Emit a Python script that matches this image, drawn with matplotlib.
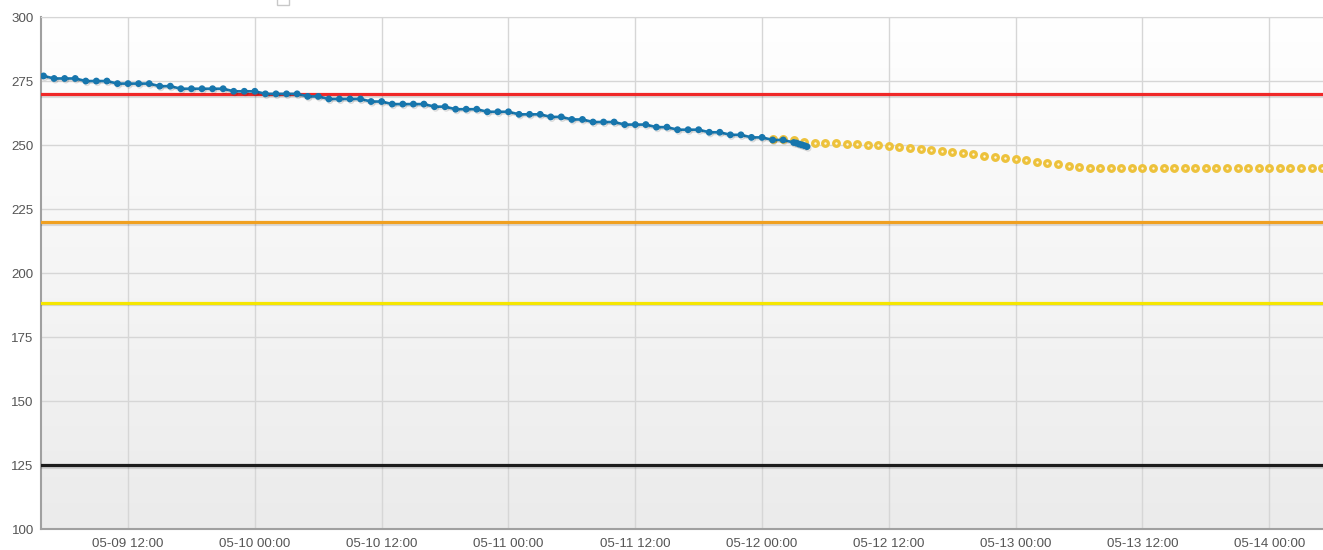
import numpy as np
import pandas as pd
import matplotlib
matplotlib.use('Agg')
import matplotlib.pyplot as plt
import matplotlib.dates as mdates
import matplotlib.patheffects as pe
from matplotlib.colors import LinearSegmentedColormap
from matplotlib.patches import Rectangle

plt.rcParams['font.family'] = ['Liberation Sans', 'DejaVu Sans']

# measured level, hourly from 05-09 04:00
measured = [277, 276, 276, 276, 275, 275, 275, 274, 274, 274, 274, 273, 273,
            272, 272, 272, 272, 272, 271, 271, 271, 270, 270, 270, 270, 269,
            269, 268, 268, 268, 268, 267, 267, 266, 266, 266, 266, 265, 265,
            264, 264, 264, 263, 263, 263, 262, 262, 262, 261, 261, 260, 260,
            259, 259, 259, 258, 258, 258, 257, 257, 256, 256, 256, 255, 255,
            254, 254, 253, 253, 252, 252, 251]
# last readings come every 15 minutes
tail_times = ['2023-05-12 03:15', '2023-05-12 03:30', '2023-05-12 03:45',
              '2023-05-12 04:00', '2023-05-12 04:15']
tail_values = [250.8, 250.4, 250.1, 249.8, 249.4]

# forecast, hourly from 05-12 01:00
forecast = [252.3, 252.3, 252.0, 251.3, 251.0, 250.9, 250.8, 250.5, 250.3,
            250.1, 249.9, 249.5, 249.2, 248.8, 248.4, 248.0, 247.7, 247.3,
            246.9, 246.5, 245.9, 245.4, 245.0, 244.4, 244.0, 243.5, 243.0,
            242.5, 241.9, 241.4] + [241.0] * 23

limit_values = [270, 220, 188.5, 125]
limit_colors = ['#f02828', '#f0a020', '#f5e600', '#1c1c1c']

t_meas = list(pd.date_range('2023-05-09 04:00', periods=len(measured), freq='h')) \
    + list(pd.to_datetime(tail_times))
v_meas = measured + tail_values
t_fc = pd.date_range('2023-05-12 01:00', periods=len(forecast), freq='h')

x0 = pd.Timestamp('2023-05-09 03:44')
x1 = pd.Timestamp('2023-05-14 05:05')

fig = plt.figure(figsize=(13.23, 5.5), dpi=100)
ax = fig.add_axes([40.7/1323, 20.7/550, (1323-40.7)/1323, 512.3/550])

# background gradient
cmap = LinearSegmentedColormap.from_list('bg', ['#ffffff', '#ebebeb'])
ax.imshow(np.linspace(0, 1, 256).reshape(-1, 1), cmap=cmap, aspect='auto',
          extent=[mdates.date2num(x0), mdates.date2num(x1), 100, 300],
          origin='upper', zorder=0)

shadow = [pe.SimpleLineShadow(offset=(0.8, -1.2), alpha=0.12, shadow_color='k'), pe.Normal()]

for val, col in zip(limit_values, limit_colors):
    ax.axhline(val, color=col, lw=2.3, zorder=3, path_effects=shadow)

ax.plot(t_meas, v_meas, color='#1776ad', lw=1.9, marker='o', ms=3.9,
        zorder=5, path_effects=shadow)
ax.plot(t_fc, forecast, ls='none', marker='o', ms=4.1, mfc='#fff8e6',
        mec='#edc23c', mew=2.3, zorder=4)

ax.set_xlim(x0, x1)
ax.set_ylim(100, 300)
ax.set_yticks(np.arange(100, 301, 25))
ax.xaxis.set_major_locator(mdates.HourLocator(byhour=[0, 12]))
ax.xaxis.set_major_formatter(mdates.DateFormatter('%m-%d %H:%M'))

ax.grid(True, color='#d6d6d6', lw=1.0, zorder=1)
ax.set_axisbelow(True)
ax.tick_params(length=0, labelsize=9.6, colors='#555555')
ax.tick_params(axis='y', pad=5)
ax.tick_params(axis='x', pad=6.5)

ax.spines['right'].set_visible(False)
ax.spines['top'].set_color('#d6d6d6')
ax.spines['left'].set_color('#a0a0a0')
ax.spines['bottom'].set_color('#a0a0a0')
ax.spines['left'].set_linewidth(1.5)
ax.spines['bottom'].set_linewidth(1.5)

# cut-off legend box at the top
fig.patches.append(Rectangle((277/1323, 545/550), 12/1323, 8/550, transform=fig.transFigure,
                             fc='white', ec='#c8c8c8', lw=1))

plt.savefig('out.png', dpi=100)
